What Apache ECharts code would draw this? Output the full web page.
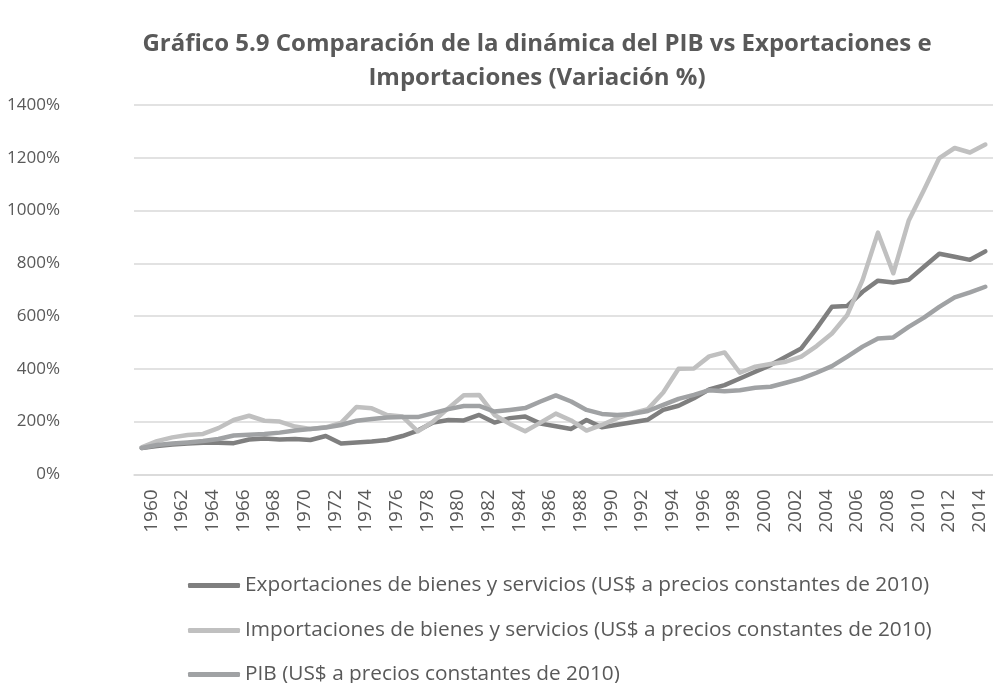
<!DOCTYPE html>
<html>
<head>
<meta charset="utf-8">
<title>Gráfico 5.9</title>
<script src="https://cdn.jsdelivr.net/npm/echarts@6/dist/echarts.min.js"></script>
<style>
    html, body {margin: 0; padding: 0; background: #fff;}
    #container {width: 993px; height: 683px;}
</style>
</head>
<body>
<div id="container"></div>
<script>
// años 1960 - 2015 (el último queda cortado en el borde)
var years = [];
for (var y = 1960; y <= 2015; y++) {
    years.push(String(y));
}

var exportaciones = [
    100, 107, 113, 117, 120, 120, 118, 132, 136, 132,
    134, 130, 145, 117, 121, 124, 130, 145, 166, 196,
    206, 204, 225, 196, 213, 219, 192, 182, 172, 206,
    178, 188, 197, 207, 244, 260, 288, 322, 338, 363,
    389, 414, 446, 477, 553, 635, 638, 692, 734, 727,
    737, 787, 836, 825, 813, 845
];

var importaciones = [
    102, 126, 140, 149, 153, 175, 206, 222, 203, 200,
    181, 172, 178, 195, 255, 250, 225, 219, 163, 200,
    251, 300, 301, 225, 191, 163, 196, 230, 204, 166,
    187, 213, 232, 247, 310, 400, 401, 447, 462, 385,
    408, 418, 427, 446, 486, 534, 604, 737, 916, 762,
    961, 1078, 1199, 1237, 1220, 1250
];

var pib = [
    100, 111, 117, 121, 126, 134, 147, 150, 153, 158,
    166, 172, 177, 187, 203, 210, 215, 217, 217, 232,
    247, 259, 259, 238, 244, 251, 276, 299, 276, 244,
    229, 225, 229, 240, 263, 286, 301, 319, 315, 319,
    328, 332, 347, 363, 385, 410, 446, 484, 515, 519,
    559, 594, 635, 671, 690, 711
];

var seriesNames = [
    "Exportaciones de bienes y servicios (US$ a precios constantes de 2010)",
    "Importaciones de bienes y servicios (US$ a precios constantes de 2010)",
    "PIB (US$ a precios constantes de 2010)"
];
var seriesColors = ["#7f7f7f", "#c0c0c0", "#a0a2a4"];
var legendTops = [570, 615, 659];

var txtColor = "#595959";
var font = "'Open Sans', 'Noto Sans', sans-serif";

var makeLine = function (name, data, color) {
    return {
        name: name,
        type: "line",
        data: data,
        symbol: "none",
        smooth: false,
        lineStyle: {color: color, width: 4.5, cap: "round", join: "round"},
        itemStyle: {color: color},
        emphasis: {disabled: true}
    };
};

// una leyenda por fila, para que no se parta en columnas
var makeLegend = function (i) {
    return {
        orient: "vertical",
        left: 183,
        top: legendTops[i],
        itemWidth: 52,
        itemHeight: 5,
        icon: "roundRect",
        data: [seriesNames[i]],
        textStyle: {color: txtColor, fontFamily: font, fontSize: 20.8}
    };
};

var chart = echarts.init(document.getElementById("container"));

var option = {
    animation: false,
    backgroundColor: "#fff",
    title: {
        text: "Gráfico 5.9 Comparación de la dinámica del PIB vs Exportaciones e\nImportaciones (Variación %)",
        left: 532,
        textAlign: "center",
        top: 22,
        textStyle: {
            color: txtColor,
            fontFamily: font,
            fontWeight: "bold",
            fontSize: 24,
            lineHeight: 34
        }
    },
    legend: [makeLegend(0), makeLegend(1), makeLegend(2)],
    grid: {
        left: 134,
        right: -9,
        top: 105,
        bottom: 208.7,
        containLabel: false
    },
    xAxis: {
        type: "category",
        data: years,
        boundaryGap: true,
        axisLine: {show: true, lineStyle: {color: "#d9d9d9", width: 1.5}},
        axisTick: {show: false},
        axisLabel: {
            interval: 1,
            rotate: 90,
            margin: 15,
            verticalAlign: "top",
            color: txtColor,
            fontFamily: font,
            fontSize: 19
        }
    },
    yAxis: {
        type: "value",
        min: 0,
        max: 1400,
        interval: 200,
        axisLine: {show: false},
        axisTick: {show: false},
        splitLine: {lineStyle: {color: "#d9d9d9", width: 1.5}},
        axisLabel: {
            formatter: function (v) {
                return v + "%";
            },
            margin: 74,
            color: txtColor,
            fontFamily: font,
            fontSize: 17
        }
    },
    series: [
        makeLine(seriesNames[0], exportaciones, seriesColors[0]),
        makeLine(seriesNames[1], importaciones, seriesColors[1]),
        makeLine(seriesNames[2], pib, seriesColors[2])
    ]
};

chart.setOption(option);
</script>
</body>
</html>
